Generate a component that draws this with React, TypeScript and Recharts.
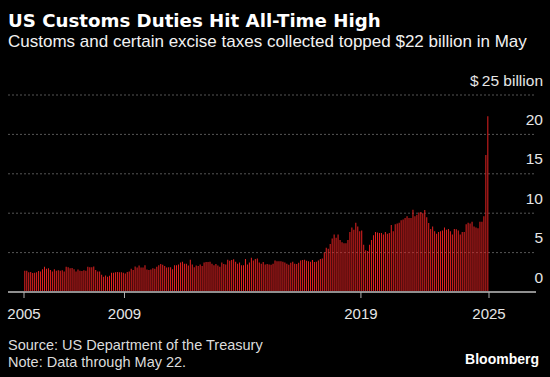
import { Bar, BarChart, CartesianGrid, XAxis, YAxis } from "recharts";

// Monthly customs and certain excise taxes, $ billion, Oct 2005 - May 2025
const firstMonth = { year: 2005, month: 9 };
const duties: number[] = [
  2.7, 2.7, 2.5, 2.55, 2.4, 2.45, 2.5, 2.65, 2.6, 2.9,
  3.2, 2.95, 3.0, 2.8, 2.6, 2.9, 2.7, 2.75, 2.7, 2.75,
  2.6, 3.2, 3.15, 3.0, 3.05, 2.9, 2.6, 2.85, 2.7, 2.65,
  2.75, 2.7, 3.2, 3.15, 3.15, 3.25, 2.8, 2.6, 2.6, 2.2,
  1.95, 2.1, 1.95, 2.05, 2.45, 2.45, 2.5, 2.55, 2.5, 2.5,
  2.45, 2.35, 2.55, 2.6, 2.95, 2.8, 3.25, 3.1, 3.35, 3.1,
  3.1, 3.4, 2.85, 2.8, 2.85, 3.0, 2.95, 3.2, 3.4, 3.55,
  3.45, 3.3, 3.1, 3.15, 3.15, 2.9, 3.4, 3.4, 3.5, 3.75,
  3.85, 3.6, 3.6, 3.35, 4.1, 3.5, 3.15, 3.35, 3.3, 3.5,
  3.3, 3.75, 3.8, 3.8, 3.85, 3.6, 3.4, 3.55, 3.35, 3.2,
  3.75, 3.55, 3.5, 4.1, 3.95, 4.05, 4.15, 3.85, 3.6, 3.75,
  3.4, 3.4, 4.2, 3.5, 3.75, 4.35, 4.0, 4.2, 4.25, 3.75,
  3.6, 3.8, 3.5, 3.55, 3.5, 3.45, 3.6, 4.0, 3.9, 3.9,
  3.9, 3.85, 3.75, 3.6, 3.45, 3.7, 3.85, 3.6, 3.55, 3.7,
  4.0, 4.05, 4.1, 3.95, 3.9, 3.85, 4.05, 3.8, 3.85, 4.0,
  4.2, 4.25, 5.0, 5.6, 5.5, 6.1, 6.8, 7.3, 6.9, 7.3,
  6.6, 6.3, 6.2, 6.2, 6.6, 7.6, 8.2, 7.9, 8.8, 8.3,
  7.7, 7.8, 6.0, 5.3, 5.2, 6.0, 6.6, 7.2, 7.6, 7.55,
  7.5, 7.5, 7.3, 7.6, 7.4, 7.5, 8.5, 7.7, 8.6, 8.7,
  8.8, 9.1, 9.2, 9.4, 9.6, 9.4, 9.4, 10.45, 9.6, 9.8,
  10.1, 10.15, 10.0, 10.4, 9.5, 8.75, 8.0, 8.3, 7.7, 7.4,
  7.6, 7.7, 7.8, 8.2, 7.9, 8.0, 7.7, 7.3, 8.0, 7.95,
  7.8, 7.3, 7.6, 7.6, 8.6, 8.8, 8.7, 8.9, 8.3, 8.2,
  8.1, 8.9, 8.9, 9.6, 17.4, 22.3,
];

// year ticks sit on month boundaries (index of the month that starts there)
const yearTicks = [0, 51, 171, 236];
const yearLabels = ["2005", "2009", "2019", "2025"];
const valueTicks = [0, 5, 10, 15, 20, 25];
const valueLabels = ["0", "5", "10", "15", "20", "$\u200925 billion"];

const monthName = (i: number) => {
  const m = firstMonth.month + i;
  const y = firstMonth.year + Math.floor(m / 12);
  return `${y}-${String((m % 12) + 1).padStart(2, "0")}`;
};

const chartData = duties.map((v, i) => ({ month: monthName(i), idx: i, value: v }));

const FONT = "'Liberation Sans', Arial, sans-serif";
const axisPadding = { left: 16, right: 47 };

function ValueTick(props: any) {
  const { x, y, payload } = props;
  const label = valueLabels[valueTicks.indexOf(payload.value)];
  return (
    <text
      x={x + 7}
      y={y - 15}
      dy="0.36em"
      textAnchor="end"
      fill="#e6e6e6"
      fontSize={15.5}
      fontFamily={FONT}
    >
      {label}
    </text>
  );
}

export default function App() {
  return (
    <div
      style={{
        position: "absolute",
        left: 0,
        top: 0,
        width: 550,
        height: 377,
        background: "#000",
        overflow: "hidden",
        fontFamily: FONT,
      }}
    >
      <div
        style={{
          position: "absolute",
          left: 8,
          top: 8.5,
          lineHeight: "24px",
          fontSize: 18.2,
          fontWeight: 700,
          fontFamily: "'DejaVu Sans', sans-serif",
          color: "#fff",
          whiteSpace: "nowrap",
        }}
      >
        US Customs Duties Hit All-Time High
      </div>
      <div
        style={{
          position: "absolute",
          left: 8,
          top: 32,
          lineHeight: "20px",
          fontSize: 17,
          color: "#f2f2f2",
          whiteSpace: "nowrap",
        }}
      >
        Customs and certain excise taxes collected topped $22 billion in May
      </div>

      <div style={{ position: "absolute", left: 0, top: 0 }}>
        <BarChart
          width={550}
          height={377}
          data={chartData}
          margin={{ top: 95, right: 0, bottom: 55, left: 8 }}
          barCategoryGap="15%"
        >
          <CartesianGrid
            xAxisId="years"
            vertical={false}
            stroke="#555"
            strokeDasharray="2 2"
          />
          <XAxis
            xAxisId="bars"
            dataKey="month"
            hide
            height={0}
            padding={axisPadding}
          />
          <XAxis
            xAxisId="years"
            dataKey="idx"
            type="number"
            domain={[0, 236]}
            ticks={yearTicks}
            interval={0}
            padding={axisPadding}
            height={30}
            tickFormatter={(v) => yearLabels[yearTicks.indexOf(v)]}
            axisLine={{ stroke: "#8f8f8f", strokeWidth: 2 }}
            tickLine={{ stroke: "#b0b0b0" }}
            tickSize={6}
            tickMargin={10.5}
            tick={{ fill: "#e6e6e6", fontSize: 15, fontFamily: FONT }}
          />
          <YAxis
            orientation="right"
            domain={[0, 25]}
            ticks={valueTicks}
            interval={0}
            width={14}
            axisLine={false}
            tickLine={false}
            tickSize={0}
            tickMargin={0}
            tick={<ValueTick />}
          />
          <Bar
            xAxisId="bars"
            dataKey="value"
            fill="#e42222"
            isAnimationActive={false}
          />
        </BarChart>
      </div>

      <div
        style={{
          position: "absolute",
          left: 8,
          top: 337,
          fontSize: 14.5,
          lineHeight: "16.5px",
          color: "#dcdcdc",
          whiteSpace: "nowrap",
        }}
      >
        Source: US Department of the Treasury
        <br />
        Note: Data through May 22.
      </div>
      <div
        style={{
          position: "absolute",
          right: 11,
          top: 351,
          fontSize: 14,
          lineHeight: "17px",
          fontWeight: 700,
          color: "#fff",
          whiteSpace: "nowrap",
        }}
      >
        Bloomberg
      </div>
    </div>
  );
}
